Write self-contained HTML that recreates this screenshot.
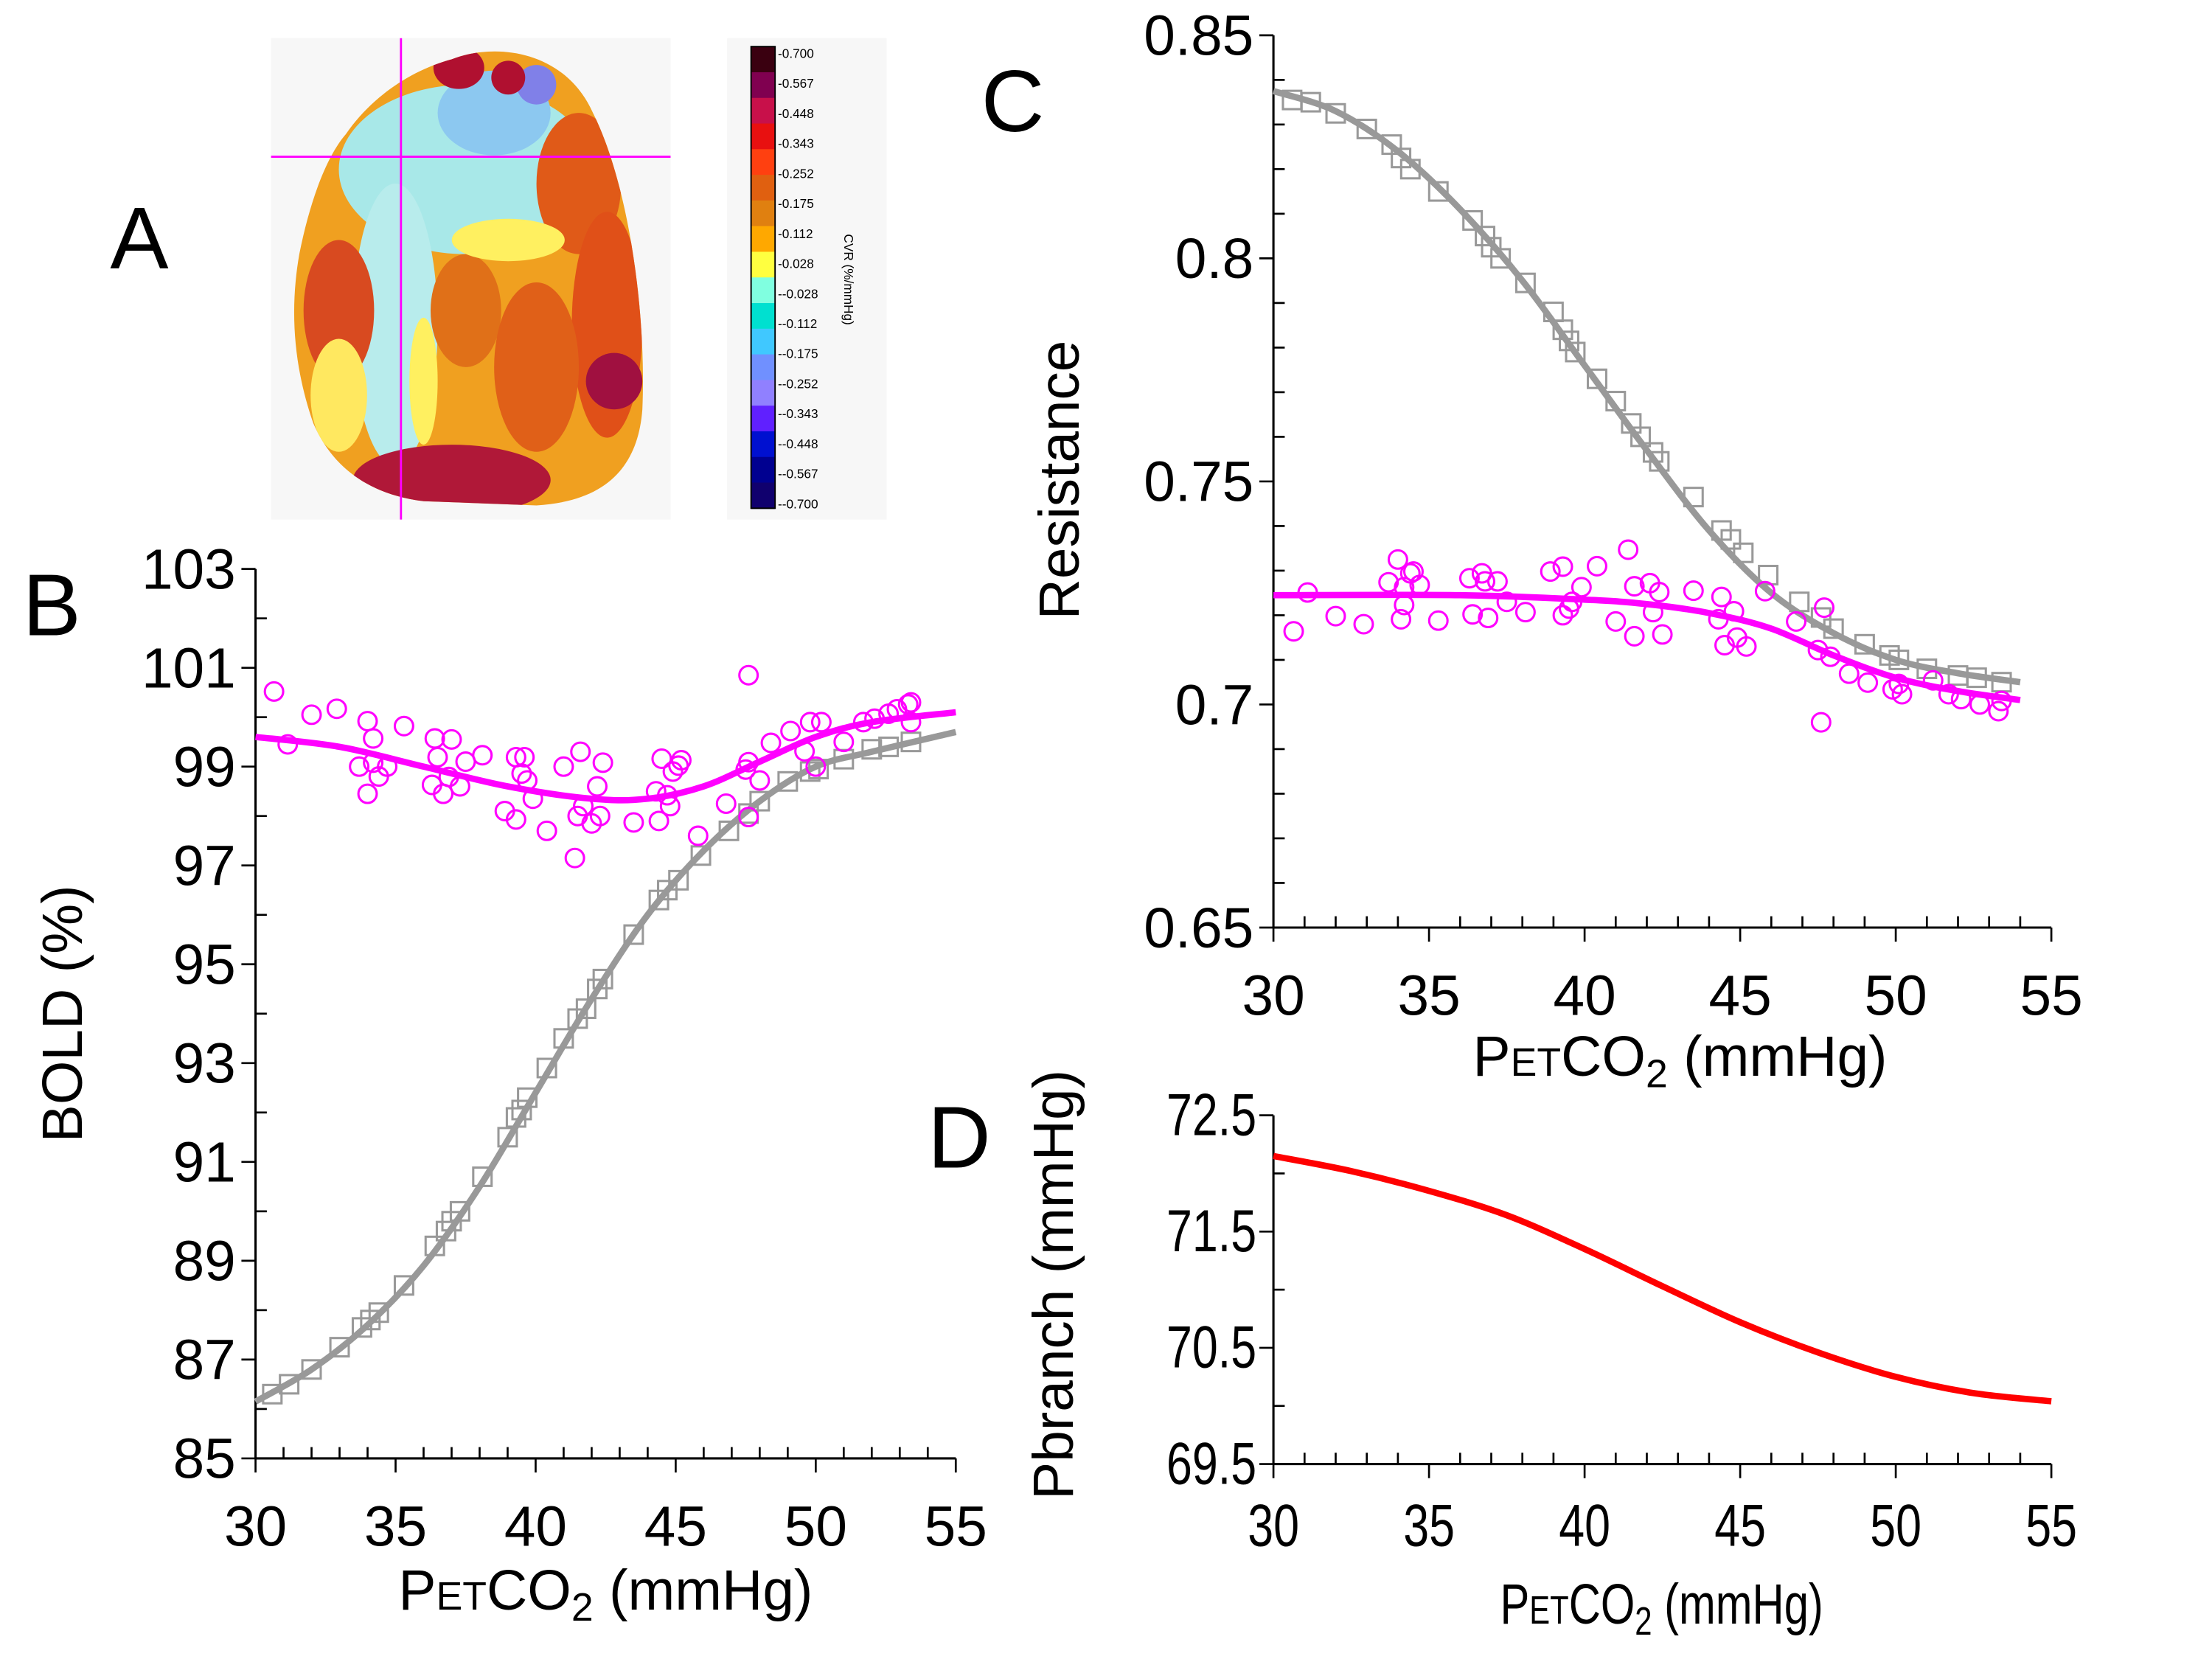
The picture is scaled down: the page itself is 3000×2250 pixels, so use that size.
<!DOCTYPE html>
<html><head><meta charset="utf-8"><style>
html,body{margin:0;padding:0;background:#fff;}
svg{display:block;font-family:"Liberation Sans",Arial,sans-serif;}
</style></head><body>
<svg id="fig" width="3000" height="2250" viewBox="0 0 1566.8 1175.1" preserveAspectRatio="none" xmlns="http://www.w3.org/2000/svg">
<rect x="0" y="0" width="1570" height="1180" fill="#fff"/>
<g id="panelA">
  <text x="78" y="190" font-size="62">A</text>
  <rect x="192" y="27" width="283" height="341" fill="#f7f7f7"/>
  <defs>
    <clipPath id="brainclip"><path d="M320,42 C350,30 400,35 420,80 C445,130 458,220 455,290 C452,330 430,355 380,358 L300,355 C260,350 235,330 222,300 C208,260 205,220 212,180 C220,140 232,110 245,95 C262,70 290,50 320,42 Z"/></clipPath>
  </defs>
  <g clip-path="url(#brainclip)">
    <rect x="200" y="30" width="270" height="340" fill="#f0a020"/>
    <ellipse cx="330" cy="120" rx="90" ry="60" fill="#a8e8e8"/>
    <ellipse cx="280" cy="230" rx="30" ry="100" fill="#b8ecec"/>
    <ellipse cx="350" cy="80" rx="40" ry="30" fill="#8cc8f0"/>
    <ellipse cx="380" cy="60" rx="14" ry="14" fill="#8080e8"/>
    <ellipse cx="410" cy="130" rx="30" ry="50" fill="#e05a18"/>
    <ellipse cx="430" cy="230" rx="25" ry="80" fill="#e05018"/>
    <ellipse cx="330" cy="220" rx="25" ry="40" fill="#e07018"/>
    <ellipse cx="380" cy="260" rx="30" ry="60" fill="#e06018"/>
    <ellipse cx="240" cy="220" rx="25" ry="50" fill="#d84a20"/>
    <ellipse cx="320" cy="340" rx="70" ry="25" fill="#b01838"/>
    <ellipse cx="435" cy="270" rx="20" ry="20" fill="#a01040"/>
    <ellipse cx="325" cy="48" rx="18" ry="15" fill="#b01030"/>
    <ellipse cx="360" cy="55" rx="12" ry="12" fill="#b01030"/>
    <ellipse cx="300" cy="270" rx="10" ry="45" fill="#fff060"/>
    <ellipse cx="360" cy="170" rx="40" ry="15" fill="#fff060"/>
    <ellipse cx="240" cy="280" rx="20" ry="40" fill="#ffe860"/>
  </g>
  <line x1="284" y1="27" x2="284" y2="368" stroke="#ff00ff" stroke-width="1.5"/>
  <line x1="192" y1="111" x2="475" y2="111" stroke="#ff00ff" stroke-width="1.5"/>
  <rect x="515" y="27" width="113" height="341" fill="#f7f7f7"/>
  <g id="cbar"></g>
</g>
<g id="panelB"></g>
<g id="panelC"></g>
<g id="panelD"></g>
</svg>
<script>
// ---------- data ----------
const bCircleX=[30.66,31.15,32.0,32.9,34.0,33.7,34.0,34.2,34.2,34.4,34.7,35.3,36.4,36.5,36.3,36.7,37.0,36.9,37.3,37.5,38.1,38.9,39.3,39.6,39.5,39.7,39.3,39.9,40.4,41.0,41.4,41.6,41.5,41.7,42.0,42.2,42.4,42.3,43.5,44.4,44.3,44.5,44.7,44.8,44.9,45.1,45.2,45.8,46.8,47.5,47.6,47.6,47.6,48.0,48.4,49.1,49.6,49.8,50.2,50.0,51.0,51.7,52.1,52.6,52.9,53.3,53.4,53.4];
const bCircleY=[100.52,99.45,100.05,100.17,99.92,99.0,98.45,99.57,99.08,98.8,99.0,99.82,99.57,99.19,98.63,98.45,99.55,98.79,98.6,99.1,99.23,98.1,99.19,99.19,98.86,98.72,97.93,98.35,97.7,99.0,97.15,99.3,98.0,98.2,97.85,98.6,99.08,98.0,97.87,97.9,98.5,99.16,98.42,98.2,98.9,99.02,99.13,97.6,98.25,98.94,99.09,100.85,97.98,98.72,99.48,99.72,99.31,99.9,99.9,99.0,99.5,99.9,99.97,100.07,100.16,100.26,100.3,99.9];
const sqX=[30.6,31.2,32.0,33.0,33.8,34.1,34.4,35.3,36.4,36.8,37.0,37.3,38.1,39.0,39.3,39.5,39.7,40.4,41.0,41.5,41.8,42.2,42.4,43.5,44.4,44.7,45.1,45.9,46.9,47.6,48.0,49.0,49.8,50.1,51.0,52.0,52.6,53.4];
const bSqY=[86.3,86.5,86.8,87.25,87.65,87.8,87.95,88.5,89.3,89.6,89.8,90.0,90.7,91.5,91.9,92.05,92.3,92.9,93.5,93.9,94.1,94.5,94.7,95.6,96.3,96.5,96.7,97.2,97.7,98.05,98.3,98.7,98.9,98.95,99.15,99.35,99.4,99.5];
const bGrayFitX=[30,32,34,36,38,40,42,44,46,48,50,52,55];
const bGrayFitY=[86.15,86.8,87.7,88.9,90.5,92.4,94.3,96.0,97.3,98.3,99.0,99.3,99.7];
const bMagFitX=[30,33,36,39,42,44,46,48,50,52,55];
const bMagFitY=[99.6,99.4,99.0,98.6,98.35,98.35,98.6,99.1,99.6,99.9,100.1];
const cCircleX=[30.65,31.1,32.0,32.9,33.7,34.0,34.1,34.2,34.2,34.4,34.5,34.7,35.3,36.3,36.4,36.7,36.8,36.9,37.2,37.5,38.1,38.9,39.3,39.3,39.5,39.6,39.9,40.4,41.0,41.4,41.6,41.6,42.1,42.2,42.4,42.5,43.5,44.3,44.4,44.5,44.8,44.9,45.2,45.8,46.8,47.5,47.7,47.6,47.9,48.5,49.1,49.9,50.1,50.2,51.2,51.7,52.1,52.7,53.3,53.4];
const cCircleY=[0.7164,0.7251,0.7198,0.718,0.7274,0.7325,0.7191,0.7223,0.7263,0.7294,0.7298,0.7268,0.7188,0.7283,0.7202,0.7294,0.7276,0.7194,0.7276,0.723,0.7207,0.7298,0.7309,0.72,0.7215,0.723,0.7263,0.731,0.7186,0.7347,0.7265,0.7153,0.7272,0.7207,0.7252,0.7157,0.7255,0.7191,0.7241,0.7133,0.7209,0.715,0.713,0.7254,0.7186,0.7122,0.7217,0.696,0.7107,0.7069,0.7049,0.7034,0.7046,0.7023,0.7054,0.7023,0.7012,0.70,0.6985,0.7008];
const cSqY=[0.8355,0.835,0.8325,0.829,0.8255,0.8225,0.820,0.815,0.8085,0.805,0.8025,0.800,0.7945,0.788,0.784,0.7815,0.779,0.773,0.768,0.763,0.760,0.7565,0.7545,0.7465,0.739,0.737,0.734,0.729,0.723,0.7195,0.717,0.7135,0.711,0.710,0.708,0.7065,0.706,0.705];
const cGrayFitX=[30,32,34,36,38,40,42,44,46,48,50,52,54];
const cGrayFitY=[0.8375,0.833,0.824,0.811,0.795,0.776,0.757,0.739,0.725,0.716,0.710,0.707,0.705];
const cMagFitX=[30,36,40,42,44,46,48,50,52,54];
const cMagFitY=[0.7245,0.7245,0.7235,0.7225,0.7205,0.717,0.711,0.706,0.703,0.701];
const dFitX=[30,32.5,35,37.5,40,42.5,45,47.5,50,52.5,55];
const dFitY=[72.15,72.02,71.85,71.64,71.35,71.03,70.72,70.46,70.25,70.11,70.04];
const xTickLabels=["30","35","40","45","50","55"];
const bYTickLabels=["85","87","89","91","93","95","97","99","101","103"];
const cYTickLabels=["0.65","0.7","0.75","0.8","0.85"];
const dYTickLabels=["69.5","70.5","71.5","72.5"];
const cbarLabels=["0.700","0.567","0.448","0.343","0.252","0.175","0.112","0.028","-0.028","-0.112","-0.175","-0.252","-0.343","-0.448","-0.567","-0.700"];

const NS="http://www.w3.org/2000/svg";
function mk(tag,attrs,parent,txt){const e=document.createElementNS(NS,tag);for(const k in attrs)e.setAttribute(k,attrs[k]);if(txt!==undefined)e.textContent=txt;parent.appendChild(e);return e;}
function scale(d0,d1,p0,p1){return v=>p0+(v-d0)/(d1-d0)*(p1-p0);}
function smoothPath(xs,ys,sx,sy){
  const P=xs.map((x,i)=>[sx(x),sy(ys[i])]);let d="M"+P[0][0]+","+P[0][1];
  for(let i=0;i<P.length-1;i++){const p0=P[i-1]||P[i],p1=P[i],p2=P[i+1],p3=P[i+2]||p2;
    const c1=[p1[0]+(p2[0]-p0[0])/6,p1[1]+(p2[1]-p0[1])/6],c2=[p2[0]-(p3[0]-p1[0])/6,p2[1]-(p3[1]-p1[1])/6];
    d+=" C"+c1+" "+c2+" "+p2;}
  return d;}

function axes(g,o){
  const sx=o.sx,sy=o.sy;
  let e=mk("line",{x1:sx(30),y1:sy(o.y0),x2:sx(30),y2:sy(o.y1),stroke:"#000","stroke-width":1.6},g);
  
  
  e=mk("line",{x1:sx(30),y1:sy(o.y0),x2:sx(55),y2:sy(o.y0),stroke:"#000","stroke-width":1.6},g);
  
  
  for(let v=30;v<=55;v++){
    const major=(v%5===0);const x=sx(v),y=sy(o.y0);
    e=mk("line",{x1:x,y1:major?y:y-8,x2:x,y2:major?y+10:y,stroke:"#000","stroke-width":1.4},g);
    
    
  }
  xTickLabels.forEach(t=>{
    e=mk("text",{x:sx(+t),y:sy(o.y0)+o.xlabOff,"font-size":o.fs,"text-anchor":"middle",transform:o.cond?`translate(${sx(+t)},0) scale(0.78,1) translate(${-sx(+t)},0)`:""},g,t);
    
    
  });
  o.yMajors.forEach((t,i)=>{
    const y=sy(+t);
    e=mk("line",{x1:sx(30)-10,y1:y,x2:sx(30),y2:y,stroke:"#000","stroke-width":1.4},g);
    
    
    const lx=sx(30)-o.ylabGap;
    e=mk("text",{x:lx,y:y+14,"font-size":o.fs,"text-anchor":"end",transform:o.cond?`translate(${lx},0) scale(0.78,1) translate(${-lx},0)`:""},g,t);
    
    
  });
  for(let v=o.y0;v<=o.y1+1e-9;v+=o.minorStep){
    if(o.yMajors.some(m=>Math.abs(+m-v)<1e-6))continue;
    const y=sy(v);
    e=mk("line",{x1:sx(30),y1:y,x2:sx(30)+8,y2:y,stroke:"#000","stroke-width":1.4},g);
    
    
  }
  const t=mk("text",{x:o.xtx,y:o.xty,"font-size":40,"text-anchor":"middle",transform:o.cond?`translate(${o.xtx},0) scale(0.78,1) translate(${-o.xtx},0)`:""},g);
  
  
  mk("tspan",{},t,"P");mk("tspan",{"font-size":28},t,"ET");mk("tspan",{},t,"CO");mk("tspan",{"font-size":28,dy:8},t,"2");mk("tspan",{dy:-8},t," (mmHg)");
  const yt=mk("text",{x:0,y:0,"font-size":40,"text-anchor":"middle",transform:`translate(${o.ytx},${o.yty}) rotate(-90)`},g,o.ytitle);
  
  
}
function squares(g,xs,ys,sx,sy){xs.forEach((x,i)=>{const e=mk("rect",{x:sx(x)-6.5,y:sy(ys[i])-6.5,width:13,height:13,fill:"none",stroke:"#999","stroke-width":1.6},g);
  
  });}
function circles(g,xs,ys,sx,sy){xs.forEach((x,i)=>{const e=mk("circle",{cx:sx(x),cy:sy(ys[i]),r:6.5,fill:"none",stroke:"#ff00ff","stroke-width":1.6},g);
  
  });}
function fit(g,xs,ys,sx,sy,col,name){const e=mk("path",{d:smoothPath(xs,ys,sx,sy),fill:"none",stroke:col,"stroke-width":4.5,"stroke-linecap":"butt"},g);
  
  }

// Panel B
{const g=document.getElementById("panelB");const sx=scale(30,55,181,677),sy=scale(85,103,1033,403);
 let l=mk("text",{x:16,y:450,"font-size":62},g,"B");
 
 
 axes(g,{sx,sy,y0:85,y1:103,yMajors:bYTickLabels,minorStep:1,fs:40,xlabOff:62,ylabGap:14,xtx:429,xty:1140,ytx:58,yty:718,ytitle:"BOLD (%)"});
 squares(g,sqX,bSqY,sx,sy);fit(g,bGrayFitX,bGrayFitY,sx,sy,"#999","gray-fit-curve");
 circles(g,bCircleX,bCircleY,sx,sy);fit(g,bMagFitX,bMagFitY,sx,sy,"#ff00ff","magenta-fit-curve");}
// Panel C
{const g=document.getElementById("panelC");const sx=scale(30,55,902,1453),sy=scale(0.65,0.85,657,25);
 let l=mk("text",{x:695,y:93,"font-size":62},g,"C");
 
 
 axes(g,{sx,sy,y0:0.65,y1:0.85,yMajors:cYTickLabels,minorStep:0.01,fs:40,xlabOff:62,ylabGap:14,xtx:1190,xty:762,ytx:764,yty:340,ytitle:"Resistance"});
 squares(g,sqX,cSqY,sx,sy);fit(g,cGrayFitX,cGrayFitY,sx,sy,"#999","gray-fit-curve");
 circles(g,cCircleX,cCircleY,sx,sy);fit(g,cMagFitX,cMagFitY,sx,sy,"#ff00ff","magenta-fit-curve");}
// Panel D
{const g=document.getElementById("panelD");const sx=scale(30,55,902,1453),sy=scale(69.5,72.5,1037,790);
 let l=mk("text",{x:657,y:827,"font-size":62},g,"D");
 
 
 axes(g,{sx,sy,y0:69.5,y1:72.5,yMajors:dYTickLabels,minorStep:0.5,fs:42,xlabOff:58,ylabGap:12,xtx:1177,xty:1150,ytx:760,yty:910,ytitle:"Pbranch (mmHg)",cond:true});
 fit(g,dFitX,dFitY,sx,sy,"#ff0000","pbranch-curve");}
// Colorbar
{const g=document.getElementById("cbar");
 const cols=["#3a0010","#800050","#c8104a","#e81010","#ff4010","#e06010","#e08010","#ffa800","#ffff40","#80ffe0","#00e0d0","#40c8ff","#7090ff","#9080ff","#6020ff","#0010d0","#000090","#10006e"];
 const n=cols.length;const y0=33,y1=360,h=(y1-y0)/n;
 cols.forEach((c,i)=>{const e=mk("rect",{x:532,y:y0+i*h,width:17,height:h+0.5,fill:c},g);
   
   });
 mk("rect",{x:532,y:y0,width:17,height:y1-y0,fill:"none",stroke:"#000","stroke-width":1},g);
 cbarLabels.forEach((t,i)=>{const y=38+i*(357-38)/(cbarLabels.length-1);
   const e=mk("text",{x:551,y:y+3,"font-size":9},g,"-"+t);
   
   });
 const ct=mk("text",{x:0,y:0,"font-size":9,"text-anchor":"middle",transform:"translate(598,198) rotate(90)"},g,"CVR (%/mmHg)");
 
 }
</script>
</body></html>
